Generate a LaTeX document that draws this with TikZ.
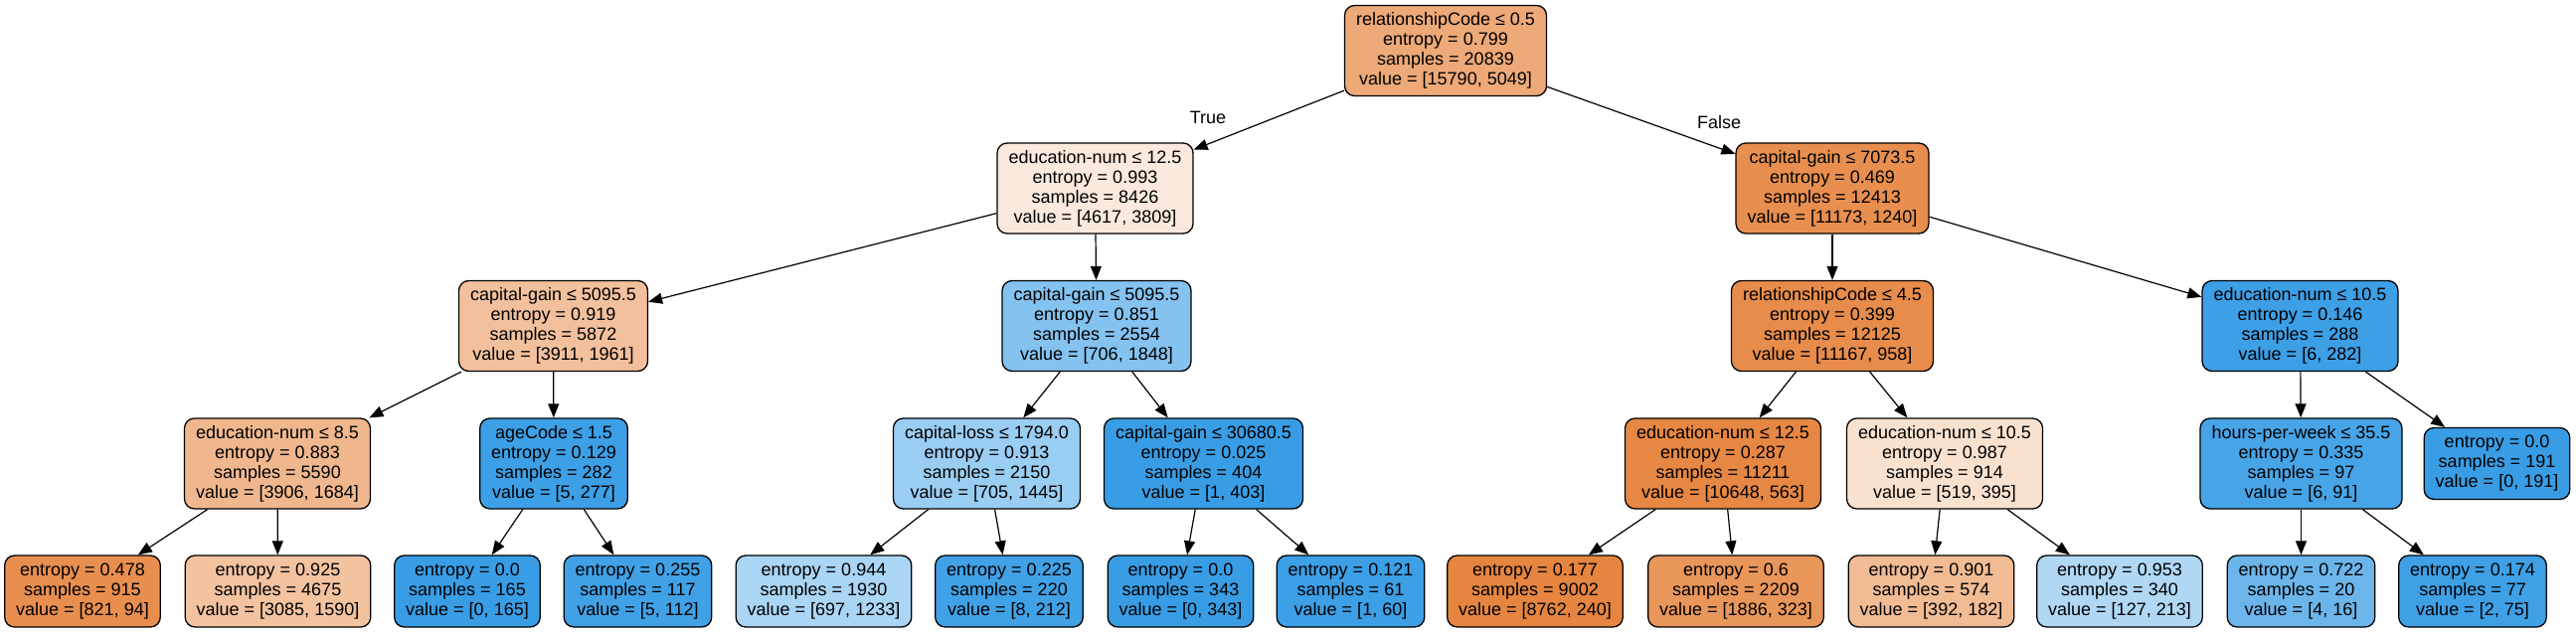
\documentclass[tikz,border=0pt]{standalone}
\usepackage{fontspec}
\setmainfont{Liberation Sans}
\usepackage{tikz}
\usetikzlibrary{arrows.meta}
\definecolor{org}{RGB}{229,129,57}
\definecolor{blu}{RGB}{57,157,229}
\tikzset{
    cond/.style={draw, line width=0.65pt, rounded corners=5pt, align=center,
                 minimum height=45.5pt, inner xsep=5.75pt, inner ysep=0pt,
                 font=\fontsize{9}{10}\selectfont},
    leaf/.style={cond, minimum height=36pt},
    branch/.style={-{Triangle[length=7pt,width=5.5pt]}, line width=0.6pt}
}

\begin{document}
\begin{tikzpicture}[x=0.5pt, y=-0.5pt]
                    \useasboundingbox (0,0) rectangle (2591,636);

                    \node[cond, fill=org!68]   (s20839) at (1454,   51)  {relationshipCode ≤ 0.5\\entropy = 0.799\\samples = 20839\\value = [15790, 5049]};

                    \node[cond, fill=org!17.5] (s8426)  at (1101.5, 189.5) {education-num ≤ 12.5\\entropy = 0.993\\samples = 8426\\value = [4617, 3809]};
                    \node[cond, fill=org!89]   (s12413) at (1843,   189.5) {capital-gain ≤ 7073.5\\entropy = 0.469\\samples = 12413\\value = [11173, 1240]};

                    \node[cond, fill=org!50]   (s5872)  at ( 556.5, 328) {capital-gain ≤ 5095.5\\entropy = 0.919\\samples = 5872\\value = [3911, 1961]};
                    \node[cond, fill=blu!62]   (s2554)  at (1103,   328) {capital-gain ≤ 5095.5\\entropy = 0.851\\samples = 2554\\value = [706, 1848]};
                    \node[cond, fill=org!91]   (s12125) at (1843,   328) {relationshipCode ≤ 4.5\\entropy = 0.399\\samples = 12125\\value = [11167, 958]};
                    \node[cond, fill=blu!98]   (s288)   at (2313.5, 328) {education-num ≤ 10.5\\entropy = 0.146\\samples = 288\\value = [6, 282]};

                    \node[cond, fill=org!57]   (s5590)  at ( 279,   466.5) {education-num ≤ 8.5\\entropy = 0.883\\samples = 5590\\value = [3906, 1684]};
                    \node[cond, fill=blu!98]   (s282)   at ( 557,   466.5) {ageCode ≤ 1.5\\entropy = 0.129\\samples = 282\\value = [5, 277]};
                    \node[cond, fill=blu!51]   (s2150)  at ( 992.5, 466.5) {capital-loss ≤ 1794.0\\entropy = 0.913\\samples = 2150\\value = [705, 1445]};
                    \node[cond, fill=blu]      (s404)   at (1210.5, 466.5) {capital-gain ≤ 30680.5\\entropy = 0.025\\samples = 404\\value = [1, 403]};
                    \node[cond, fill=org!95]   (s11211) at (1733,   466.5) {education-num ≤ 12.5\\entropy = 0.287\\samples = 11211\\value = [10648, 563]};
                    \node[cond, fill=org!24]   (s914)   at (1956,   466.5) {education-num ≤ 10.5\\entropy = 0.987\\samples = 914\\value = [519, 395]};
                    \node[cond, fill=blu!93]   (s97)    at (2314.5, 466.5) {hours-per-week ≤ 35.5\\entropy = 0.335\\samples = 97\\value = [6, 91]};
                    \node[leaf, fill=blu]      (s191)   at (2511.5, 466.5) {entropy = 0.0\\samples = 191\\value = [0, 191]};

                    \node[leaf, fill=org!89]   (s915)   at (  83,   595) {entropy = 0.478\\samples = 915\\value = [821, 94]};
                    \node[leaf, fill=org!48]   (s4675)  at ( 279.5, 595) {entropy = 0.925\\samples = 4675\\value = [3085, 1590]};
                    \node[leaf, fill=blu]      (s165)   at ( 470,   595) {entropy = 0.0\\samples = 165\\value = [0, 165]};
                    \node[leaf, fill=blu!96]   (s117)   at ( 641.5, 595) {entropy = 0.255\\samples = 117\\value = [5, 112]};
                    \node[leaf, fill=blu!43]   (s1930)  at ( 828.5, 595) {entropy = 0.944\\samples = 1930\\value = [697, 1233]};
                    \node[leaf, fill=blu!96]   (s220)   at (1015,   595) {entropy = 0.225\\samples = 220\\value = [8, 212]};
                    \node[leaf, fill=blu]      (s343)   at (1187.5, 595) {entropy = 0.0\\samples = 343\\value = [0, 343]};
                    \node[leaf, fill=blu!98]   (s61)    at (1358.5, 595) {entropy = 0.121\\samples = 61\\value = [1, 60]};
                    \node[leaf, fill=org!97]   (s9002)  at (1544,   595) {entropy = 0.177\\samples = 9002\\value = [8762, 240]};
                    \node[leaf, fill=org!83]   (s2209)  at (1746,   595) {entropy = 0.6\\samples = 2209\\value = [1886, 323]};
                    \node[leaf, fill=org!54]   (s574)   at (1942.5, 595) {entropy = 0.901\\samples = 574\\value = [392, 182]};
                    \node[leaf, fill=blu!40]   (s340)   at (2132,   595) {entropy = 0.953\\samples = 340\\value = [127, 213]};
                    \node[leaf, fill=blu!75]   (s20)    at (2314.5, 595) {entropy = 0.722\\samples = 20\\value = [4, 16]};
                    \node[leaf, fill=blu!97]   (s77)    at (2487,   595) {entropy = 0.174\\samples = 77\\value = [2, 75]};

                    \node[font=\fontsize{9}{10}\selectfont] (true)  at (1215, 118) {True};
                    \node[font=\fontsize{9}{10}\selectfont] (false) at (1729, 123) {False};

                    \foreach \a/\b in {s20839/s8426, s20839/s12413, s8426/s5872, s8426/s2554,
                                       s12413/s12125, s12413/s288, s5872/s5590, s5872/s282,
                                       s2554/s2150, s2554/s404, s12125/s11211, s12125/s914,
                                       s288/s97, s288/s191, s5590/s915, s5590/s4675,
                                       s282/s165, s282/s117, s2150/s1930, s2150/s220,
                                       s404/s343, s404/s61, s11211/s9002, s11211/s2209,
                                       s914/s574, s914/s340, s97/s20, s97/s77}{
                        \draw[branch] (\a) -- (\b);
                        };
                \end{tikzpicture}
\end{document}
